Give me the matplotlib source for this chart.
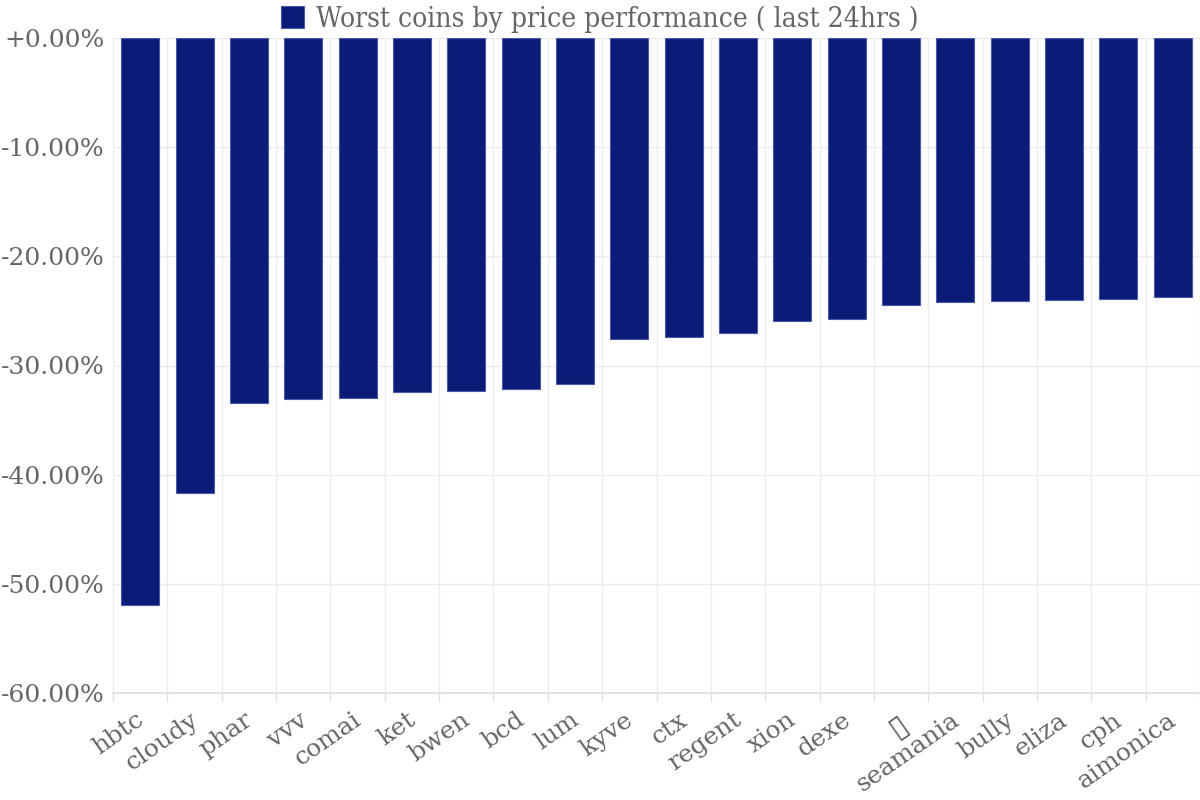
import matplotlib
matplotlib.use("Agg")
import matplotlib.pyplot as plt
from matplotlib.ticker import FuncFormatter, FixedLocator
from matplotlib import font_manager as fm
from matplotlib.transforms import ScaledTranslation

coins = ["hbtc", "cloudy", "phar", "vvv", "comai", "ket", "bwen", "bcd", "lum",
         "kyve", "ctx", "regent", "xion", "dexe", "\u25af", "seamania", "bully",
         "eliza", "cph", "aimonica"]
changes = [-51.94, -41.71, -33.43, -33.10, -33.00, -32.43, -32.36, -32.15, -31.72,
           -27.54, -27.42, -27.05, -25.95, -25.71, -24.43, -24.21, -24.12,
           -24.03, -23.88, -23.72]
legend_label = "Worst coins by price performance ( last 24hrs )"
yticks = [0, -10, -20, -30, -40, -50, -60]

plt.rcParams['font.family'] = ['DejaVu Serif', 'DejaVu Sans']
text_color = "#666666"
bar_color = "#0b1c78"

fig = plt.figure(figsize=(12, 8), dpi=100)
ax = fig.add_axes([113/1200, 1-693/800, 1-113/1200, (693-38)/800])

x = list(range(len(coins)))
bars = ax.bar(x, changes, width=0.7, color=bar_color, edgecolor="#4a58a8",
              linewidth=0.8, label=legend_label, zorder=3)

ax.set_xlim(-0.5, len(coins) - 0.5)
ax.set_ylim(-60, 0)

ax.yaxis.set_major_locator(FixedLocator(yticks))
ax.yaxis.set_major_formatter(FuncFormatter(lambda v, p: f"{v:+.2f}%" if v >= 0 else f"{v:.2f}%"))
ax.set_xticks(x)
ax.set_xticklabels(coins, rotation=35, ha="right", rotation_mode="anchor")
ax.set_xticks([i - 0.5 for i in range(len(coins) + 1)], minor=True)

ax.tick_params(axis="y", which="major", length=0, labelsize=18, labelcolor=text_color, pad=6)
ax.tick_params(axis="x", which="major", length=0, labelsize=18, labelcolor=text_color, pad=11)
ax.tick_params(axis="x", which="minor", length=6, color="#dddddd", width=1)

offset = ScaledTranslation(-5/100, 0, fig.dpi_scale_trans)
for lbl in ax.get_xticklabels():
    lbl.set_transform(lbl.get_transform() + offset)
    if lbl.get_text() == "\u25af":
        lbl.set_fontsize(22)

ax.grid(True, axis="y", which="major", color="#ebebeb", linewidth=1, zorder=0)
ax.grid(True, axis="x", which="minor", color="#ebebeb", linewidth=1, zorder=0)
ax.grid(False, axis="x", which="major")

for side in ["top", "right"]:
    ax.spines[side].set_visible(False)
ax.spines["left"].set_color("#ebebeb")
ax.spines["bottom"].set_color("#dddddd")
ax.spines["bottom"].set_linewidth(1.2)

fp = fm.FontProperties(family=['DejaVu Serif'], stretch='condensed', size=20.2)
leg = fig.legend(handles=[bars], labels=[legend_label], loc="center",
                 bbox_to_anchor=(0.5, 1-19/800), frameon=False, prop=fp,
                 handlelength=0.83, handleheight=0.83, handletextpad=0.43)
for t in leg.get_texts():
    t.set_color(text_color)

fig.savefig("out.png", dpi=100)
